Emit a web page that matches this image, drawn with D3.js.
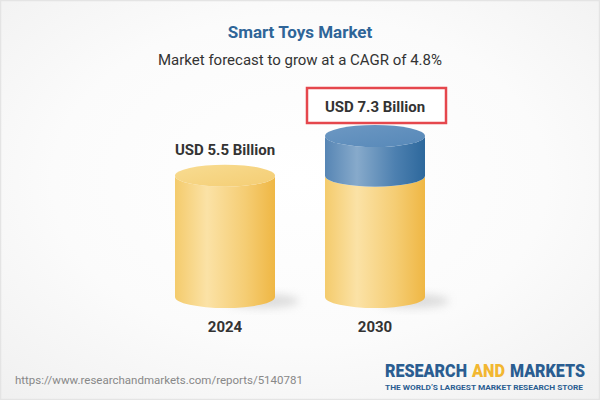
<!DOCTYPE html>
<html>
<head>
<meta charset="utf-8">
<script src="https://cdn.jsdelivr.net/npm/d3@7"></script>
<style>
html,body{margin:0;padding:0;background:#fff;}
svg{display:block;}
text{font-family:Roboto,"Open Sans",sans-serif;}
</style>
</head>
<body>
<svg id="chart" width="600" height="400"></svg>
<script>
// ---- data ----
const categories = ["2024", "2030"];
const values = [5.5, 7.3];
const valueLabels = ["USD 5.5 Billion", "USD 7.3 Billion"];
const title = "Smart Toys Market";
const subtitle = "Market forecast to grow at a CAGR of 4.8%";
const sourceUrl = "https://www.researchandmarkets.com/reports/5140781";
const logoWords = ["RESEARCH", "AND", "MARKETS"];
const tagline = "THE WORLD\u2019S LARGEST MARKET RESEARCH STORE";

const svg = d3.select("#chart");
const W = 600, H = 400;
const defs = svg.append("defs");

// background
const bg = defs.append("radialGradient").attr("id", "bg").attr("cx", "50%").attr("cy", "45%").attr("r", "75%");
bg.append("stop").attr("offset", "0%").attr("stop-color", "#ffffff");
bg.append("stop").attr("offset", "55%").attr("stop-color", "#fbfbfb");
bg.append("stop").attr("offset", "100%").attr("stop-color", "#f0f0f0");
svg.append("rect").attr("x", 0.5).attr("y", 0.5).attr("width", W - 1).attr("height", H - 1)
  .attr("fill", "url(#bg)").attr("stroke", "#e4e4e4").attr("stroke-width", 1.5);

// gradients
function sideGrad(id, c0, c1, c2, c3) {
  const g = defs.append("linearGradient").attr("id", id).attr("x1", "0%").attr("x2", "100%").attr("y1", "0%").attr("y2", "0%");
  g.append("stop").attr("offset", "0%").attr("stop-color", c0);
  g.append("stop").attr("offset", "32%").attr("stop-color", c1);
  g.append("stop").attr("offset", "70%").attr("stop-color", c2);
  g.append("stop").attr("offset", "100%").attr("stop-color", c3);
}
sideGrad("ySide", "#f4cb6c", "#fbe2a6", "#f5cd74", "#efb744");
sideGrad("bSide", "#5685b4", "#87aacb", "#4d80b0", "#2d689c");
const yTop = defs.append("linearGradient").attr("id", "yTop").attr("x1", "0%").attr("x2", "100%").attr("y1", "0%").attr("y2", "100%");
yTop.append("stop").attr("offset", "0%").attr("stop-color", "#f8dc92");
yTop.append("stop").attr("offset", "100%").attr("stop-color", "#f4cd73");
const bTop = defs.append("linearGradient").attr("id", "bTop").attr("x1", "0%").attr("x2", "100%").attr("y1", "0%").attr("y2", "100%");
bTop.append("stop").attr("offset", "0%").attr("stop-color", "#6d98c3");
bTop.append("stop").attr("offset", "100%").attr("stop-color", "#5688b8");
const blur = defs.append("filter").attr("id", "blur").attr("x", "-50%").attr("y", "-50%").attr("width", "200%").attr("height", "200%");
blur.append("feGaussianBlur").attr("stdDeviation", 4);

// scales
const x = d3.scalePoint().domain(categories).range([150, 450]).padding(0.5);
const y = d3.scaleLinear().domain([0, 7.3]).range([297, 136]);
const rx = 50, ry = 11;

function cylPath(cx, yTopC, yBotC) {
  return `M${cx - rx},${yTopC} L${cx - rx},${yBotC} A${rx},${ry} 0 0 0 ${cx + rx},${yBotC} L${cx + rx},${yTopC} A${rx},${ry} 0 0 1 ${cx - rx},${yTopC} Z`;
}

const g = svg.append("g");
categories.forEach((c, i) => {
  const cx = x(c);
  // shadow
  g.append("ellipse").attr("cx", cx + 38).attr("cy", y(0) + 4).attr("rx", 36).attr("ry", 7)
    .attr("fill", "#c8c8c8").attr("opacity", 0.6).attr("filter", "url(#blur)");
  const base = i === 0 ? values[i] : values[0];
  // yellow body
  g.append("path").attr("d", cylPath(cx, y(base), y(0))).attr("fill", "url(#ySide)");
  if (i === 0) {
    g.append("ellipse").attr("cx", cx).attr("cy", y(base)).attr("rx", rx).attr("ry", ry).attr("fill", "url(#yTop)");
  } else {
    // blue increment
    g.append("path").attr("d", cylPath(cx, y(values[i]), y(values[0]))).attr("fill", "url(#bSide)");
    g.append("ellipse").attr("cx", cx).attr("cy", y(values[i])).attr("rx", rx).attr("ry", ry).attr("fill", "url(#bTop)");
  }
  // year label
  g.append("text").attr("x", cx).attr("y", 332).attr("text-anchor", "middle")
    .attr("font-size", 15).attr("font-weight", 700).attr("fill", "#333").text(c);
});

// value labels
const lastIdx = categories.length - 1;
categories.forEach((c, i) => {
  const cx = x(c);
  const ly = y(values[i]) - ry - (i === lastIdx ? 13 : 10);
  if (i === lastIdx) {
    svg.append("rect").attr("x", cx - 68).attr("y", ly - 24).attr("width", 139).attr("height", 35)
      .attr("fill", "#fff").attr("stroke", "#e5474d").attr("stroke-width", 2.5);
  }
  svg.append("text").attr("x", cx).attr("y", ly).attr("text-anchor", "middle")
    .attr("font-size", 15).attr("font-weight", 700).attr("fill", "#333").text(valueLabels[i]);
});

// titles
svg.append("text").attr("x", 300).attr("y", 38).attr("text-anchor", "middle")
  .attr("font-size", 17).attr("font-weight", 700).attr("fill", "#2f6598").text(title);
svg.append("text").attr("x", 300).attr("y", 65).attr("text-anchor", "middle")
  .attr("font-size", 15).attr("fill", "#333").text(subtitle);

// footer
svg.append("text").attr("x", 15).attr("y", 384).attr("font-size", 11.5).attr("fill", "#888").text(sourceUrl);
const logoX = [385, 472, 510], logoLen = [82, 33, 75], logoFill = ["#2a5d91", "#f2b731", "#2a5d91"];
logoWords.forEach((w, i) => {
  svg.append("text").attr("x", logoX[i]).attr("y", 377).attr("font-size", 17.5).attr("font-weight", 900)
    .attr("textLength", logoLen[i]).attr("lengthAdjust", "spacingAndGlyphs").attr("fill", logoFill[i]).text(w);
});
svg.append("text").attr("x", 385).attr("y", 389.5).attr("font-size", 8).attr("font-weight", 700)
  .attr("textLength", 198).attr("lengthAdjust", "spacingAndGlyphs").attr("fill", "#2a5d91")
  .text(tagline);
</script>
</body>
</html>
